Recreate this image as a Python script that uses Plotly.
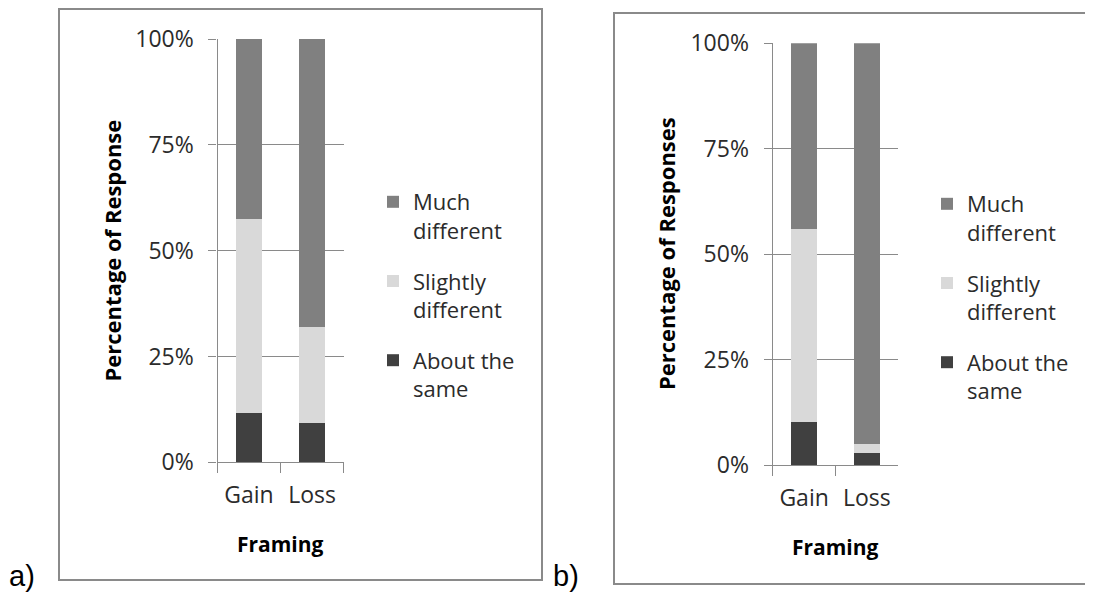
import plotly.graph_objects as go

# ---- data (percent of responses) ----
categories = ["Gain", "Loss"]
series_names = ["About the<br>same", "Slightly<br>different", "Much<br>different"]
series_colors = ["#404040", "#d9d9d9", "#808080"]
legend_ranks = [3, 2, 1]

a_about = [11.6, 9.2]
a_slight = [45.8, 22.8]
a_much = [42.6, 68.0]

b_about = [10.2, 3.0]
b_slight = [45.9, 2.1]
b_much = [43.9, 94.9]

y_ticks = [0, 25, 50, 75, 100]
y_ticktext = ["0%", "25%", "50%", "75%", "100%"]

panel_a_ytitle = "Percentage of Response"
panel_b_ytitle = "Percentage of Responses"
x_title = "Framing"

W, H = 1093, 592
OFF = 8  # page body margin
FONT = "Open Sans"
GRID = "#8a8a8a"
TXT = "#2b2b2b"


def px(x):
    return (x - OFF) / W


def py(y):
    return 1 - (y - OFF) / H


fig = go.Figure()

panels = [
    ("a", [a_about, a_slight, a_much], "x", "y", "legend"),
    ("b", [b_about, b_slight, b_much], "x2", "y2", "legend2"),
]
for tag, vals, xa, ya, lg in panels:
    for name, col, rk, v in zip(series_names, series_colors, legend_ranks, vals):
        fig.add_trace(go.Bar(
            x=categories, y=v, name=name, marker=dict(color=col, line=dict(width=0)),
            xaxis=xa, yaxis=ya, legend=lg, legendgroup=tag + name, legendrank=rk,
            hoverinfo="skip",
        ))

common_x = dict(
    type="category", range=[-0.5, 1.5], showgrid=False, zeroline=False,
    showline=True, linecolor=GRID, linewidth=1.3,
    ticks="outside", tickson="boundaries", ticklen=10, tickcolor=GRID, tickwidth=1.3,
    tickfont=dict(family=FONT, size=23, color=TXT), ticklabelstandoff=12,
    fixedrange=True, automargin=False,
)
common_y = dict(
    range=[0, 100], tickvals=y_ticks, ticktext=y_ticktext,
    showgrid=True, gridcolor=GRID, gridwidth=1.3, zeroline=False,
    showline=True, linecolor=GRID, linewidth=1.3,
    ticks="outside", ticklen=8, tickcolor=GRID, tickwidth=1.3,
    tickfont=dict(family=FONT, size=23, color=TXT), ticklabelstandoff=10,
    fixedrange=True, automargin=False,
)

legend_common = dict(
    xanchor="left", yanchor="top",
    traceorder="grouped", tracegroupgap=19, valign="top",
    font=dict(family=FONT, size=22, color=TXT), bgcolor="rgba(0,0,0,0)",
)

fig.update_layout(
    width=W, height=H, autosize=False,
    margin=dict(l=0, r=0, t=0, b=0, pad=0, autoexpand=False),
    paper_bgcolor="white", plot_bgcolor="white",
    barmode="stack", bargap=0.59,
    xaxis=dict(domain=[px(217.5), px(343.5)], anchor="y", **common_x),
    yaxis=dict(domain=[py(462.3), py(39)], anchor="x", **common_y),
    xaxis2=dict(domain=[px(772.7), px(898.3)], anchor="y2", **common_x),
    yaxis2=dict(domain=[py(465.3), py(43.3)], anchor="x2", **common_y),
    legend=dict(x=px(373), y=py(181), **legend_common),
    legend2=dict(x=px(927), y=py(183), **legend_common),
    showlegend=True,
)

# panel borders
fig.add_shape(type="rect", xref="paper", yref="paper",
              x0=px(59), x1=px(542), y0=py(580), y1=py(9),
              line=dict(color="#8a8a8a", width=2), fillcolor="rgba(0,0,0,0)", layer="below")
bx0, bx1, by0, by1 = px(614), px(1130), py(584), py(13)
fig.add_shape(type="path", xref="paper", yref="paper",
              path=f"M {bx1},{by1} L {bx0},{by1} L {bx0},{by0} L {bx1},{by0}",
              line=dict(color="#8a8a8a", width=2), fillcolor="rgba(0,0,0,0)", layer="below")

ann = []
# y titles
ann.append(dict(text="<b>" + panel_a_ytitle + "</b>", x=px(111), y=py(250.5), xref="paper", yref="paper",
                textangle=-90, showarrow=False, xanchor="center", yanchor="middle",
                font=dict(family=FONT, size=22, color="black")))
ann.append(dict(text="<b>" + panel_b_ytitle + "</b>", x=px(666), y=py(254), xref="paper", yref="paper",
                textangle=-90, showarrow=False, xanchor="center", yanchor="middle",
                font=dict(family=FONT, size=22, color="black")))
# x titles
ann.append(dict(text="<b>" + x_title + "</b>", x=px(280.5), y=py(544), xref="paper", yref="paper",
                showarrow=False, xanchor="center", yanchor="middle",
                font=dict(family=FONT, size=21, color="black")))
ann.append(dict(text="<b>" + x_title + "</b>", x=px(835.5), y=py(547), xref="paper", yref="paper",
                showarrow=False, xanchor="center", yanchor="middle",
                font=dict(family=FONT, size=21, color="black")))
# panel labels
ann.append(dict(text="a)", x=px(7), y=py(576), xref="paper", yref="paper",
                showarrow=False, xanchor="left", yanchor="middle",
                font=dict(family="Liberation Sans", size=29, color="black")))
ann.append(dict(text="b)", x=px(551), y=py(576), xref="paper", yref="paper",
                showarrow=False, xanchor="left", yanchor="middle",
                font=dict(family="Liberation Sans", size=29, color="black")))
fig.update_layout(annotations=ann)

fig.write_html("out.html")
